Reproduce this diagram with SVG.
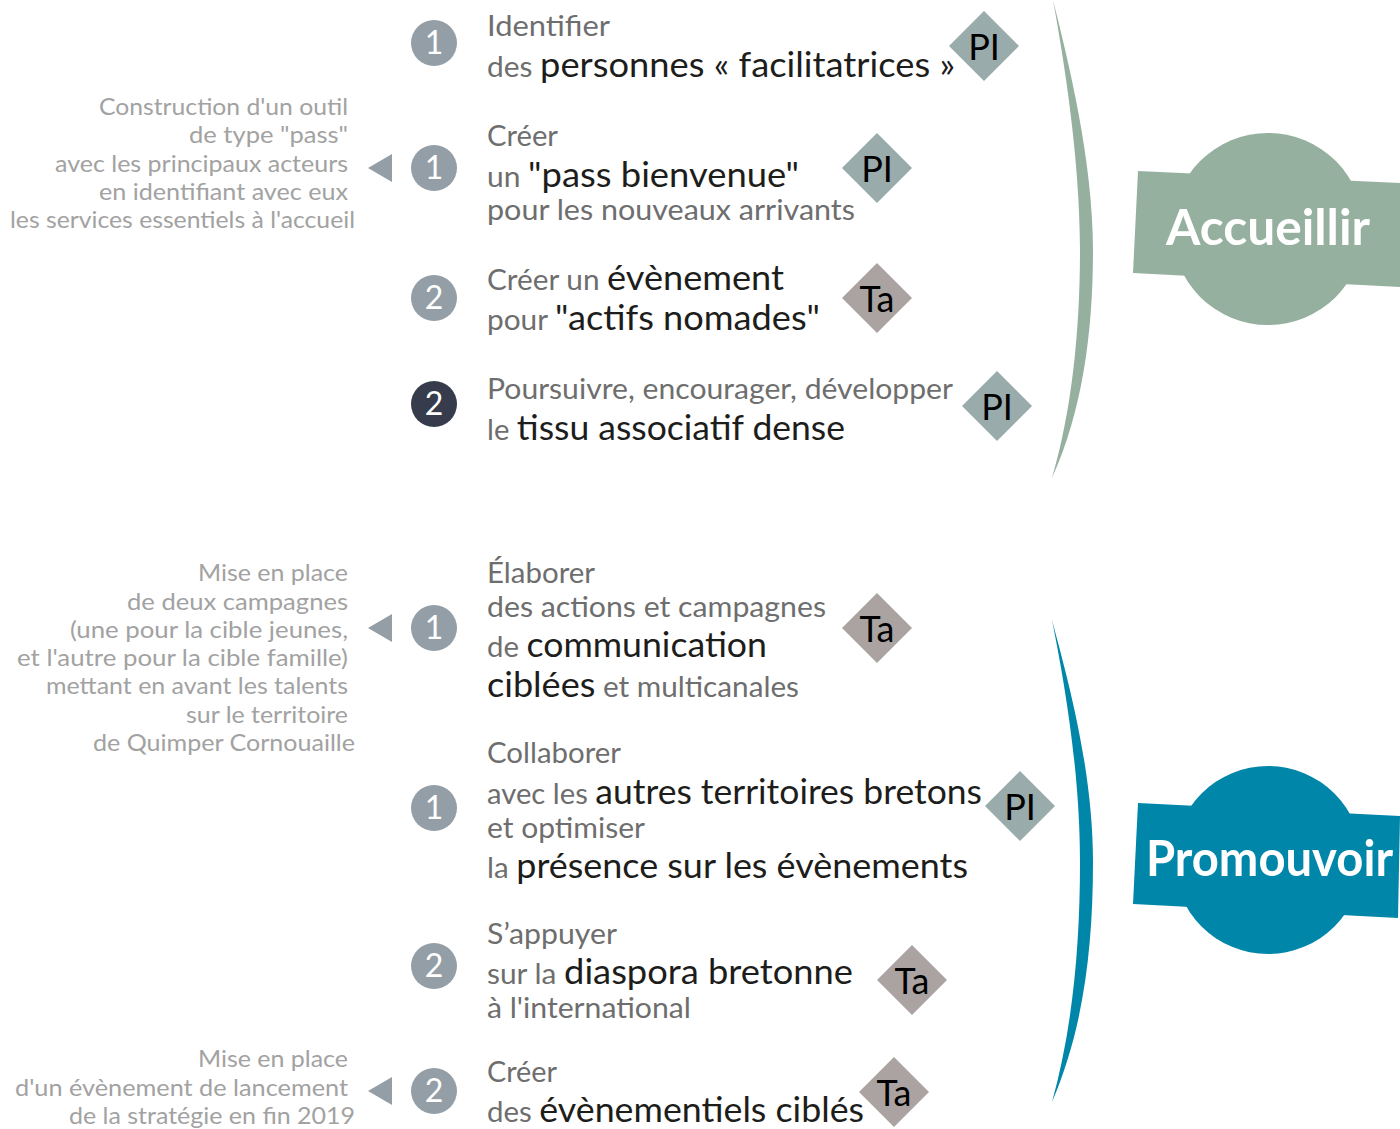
<svg xmlns="http://www.w3.org/2000/svg" width="1400" height="1129" viewBox="0 0 1400 1129">
<style>
text{font-family:Lato,"Noto Sans","Liberation Sans",sans-serif}
.g{fill:#6e6e6e;font-size:28px}
.d{fill:#1d1d1b;font-size:34px}
.n{fill:#a2a2a2;font-size:23px;text-anchor:end}
.num{fill:#ffffff;font-size:32px;text-anchor:middle}
.c1{fill:#939ea6}
.c2{fill:#363c4b}
.pi{fill:#9aabab}
.ta{fill:#aba3a2}
.dt{fill:#000000;font-size:36px;text-anchor:middle}
.tri{fill:#939ea6}
.big{fill:#ffffff;font-size:49px;font-weight:bold}
</style>
<defs>
<path id="dia" d="M0,-35 L35,0 L0,35 L-35,0 Z"/>
<path id="tri" d="M0,0 L24,-14 L24,14 Z"/>
</defs>

<g id="connectors">
<path d="M1053,0 C1068,60 1093,160 1093,250 C1093,330 1083,410 1052,478 C1072,410 1080,330 1080,250 C1080,160 1064,60 1053,0 Z" fill="#96b09f"/>
<path d="M1052,620 C1068,680 1093,770 1093,862 C1093,950 1083,1030 1052,1102 C1072,1030 1080,950 1080,862 C1080,770 1064,680 1052,620 Z" fill="#0086a9"/>
<use href="#tri" x="368" y="168" class="tri"/>
<use href="#tri" x="368" y="628" class="tri"/>
<use href="#tri" x="368" y="1091" class="tri"/>
</g>

<g id="accueillir">
<circle cx="1268" cy="229" r="96" fill="#96b09f"/>
<path d="M1138,171 L1400,183 L1400,287 L1133,273 Z" fill="#96b09f"/>
<text class="big" x="1166" y="245" textLength="204" lengthAdjust="spacingAndGlyphs">Accueillir</text>
</g>

<g id="promouvoir">
<circle cx="1268" cy="860" r="94" fill="#0086a9"/>
<path d="M1138,803 L1400,816 L1398,918 L1133,904 Z" fill="#0086a9"/>
<text class="big" x="1146" y="876" textLength="247" lengthAdjust="spacingAndGlyphs">Promouvoir</text>
</g>

<g id="item1">
<circle cx="434" cy="43" r="23" class="c1"/>
<text class="num" x="434" y="54">1</text>
<text class="g" x="487" y="36" textLength="123" lengthAdjust="spacingAndGlyphs">Identifier</text>
<text class="g" x="487" y="77" textLength="468" lengthAdjust="spacingAndGlyphs">des <tspan class="d">personnes « facilitatrices »</tspan></text>
<use href="#dia" x="984" y="46" class="pi"/>
<text class="dt" x="984" y="60">PI</text>
</g>

<g id="item2">
<circle cx="434" cy="168" r="23" class="c1"/>
<text class="num" x="434" y="179">1</text>
<text class="g" x="487" y="146" textLength="71" lengthAdjust="spacingAndGlyphs">Créer</text>
<text class="g" x="487" y="187" textLength="312" lengthAdjust="spacingAndGlyphs">un <tspan class="d">"pass bienvenue"</tspan></text>
<text class="g" x="487" y="220" textLength="368" lengthAdjust="spacingAndGlyphs">pour les nouveaux arrivants</text>
<use href="#dia" x="877" y="168" class="pi"/>
<text class="dt" x="877" y="182">PI</text>
</g>

<g id="note1">
<text class="n" x="348" y="115" textLength="249" lengthAdjust="spacingAndGlyphs">Construction d'un outil</text>
<text class="n" x="348" y="143" textLength="159" lengthAdjust="spacingAndGlyphs">de type "pass"</text>
<text class="n" x="348" y="172" textLength="293" lengthAdjust="spacingAndGlyphs">avec les principaux acteurs</text>
<text class="n" x="348" y="200" textLength="249" lengthAdjust="spacingAndGlyphs">en identifiant avec eux</text>
<text class="n" x="355" y="228" textLength="345" lengthAdjust="spacingAndGlyphs">les services essentiels à l'accueil</text>
</g>

<g id="item3">
<circle cx="434" cy="298" r="23" class="c1"/>
<text class="num" x="434" y="309">2</text>
<text class="g" x="487" y="290" textLength="297" lengthAdjust="spacingAndGlyphs">Créer un <tspan class="d">évènement</tspan></text>
<text class="g" x="487" y="330" textLength="333" lengthAdjust="spacingAndGlyphs">pour <tspan class="d">"actifs nomades"</tspan></text>
<use href="#dia" x="877" y="298" class="ta"/>
<text class="dt" x="877" y="312">Ta</text>
</g>

<g id="item4">
<circle cx="434" cy="404" r="23" class="c2"/>
<text class="num" x="434" y="415">2</text>
<text class="g" x="487" y="399" textLength="466" lengthAdjust="spacingAndGlyphs">Poursuivre, encourager, développer</text>
<text class="g" x="487" y="440" textLength="358" lengthAdjust="spacingAndGlyphs">le <tspan class="d">tissu associatif dense</tspan></text>
<use href="#dia" x="997" y="406" class="pi"/>
<text class="dt" x="997" y="420">PI</text>
</g>

<g id="item5">
<circle cx="434" cy="628" r="23" class="c1"/>
<text class="num" x="434" y="639">1</text>
<text class="g" x="487" y="583" textLength="108" lengthAdjust="spacingAndGlyphs">Élaborer</text>
<text class="g" x="487" y="617" textLength="339" lengthAdjust="spacingAndGlyphs">des actions et campagnes</text>
<text class="g" x="487" y="657" textLength="280" lengthAdjust="spacingAndGlyphs">de <tspan class="d">communication</tspan></text>
<text class="g" x="487" y="697" textLength="312" lengthAdjust="spacingAndGlyphs"><tspan class="d">ciblées</tspan> et multicanales</text>
<use href="#dia" x="877" y="628" class="ta"/>
<text class="dt" x="877" y="642">Ta</text>
</g>

<g id="note2">
<text class="n" x="348" y="581" textLength="150" lengthAdjust="spacingAndGlyphs">Mise en place</text>
<text class="n" x="348" y="610" textLength="221" lengthAdjust="spacingAndGlyphs">de deux campagnes</text>
<text class="n" x="348" y="638" textLength="278" lengthAdjust="spacingAndGlyphs">(une pour la cible jeunes,</text>
<text class="n" x="348" y="666" textLength="331" lengthAdjust="spacingAndGlyphs">et l'autre pour la cible famille)</text>
<text class="n" x="348" y="694" textLength="302" lengthAdjust="spacingAndGlyphs">mettant en avant les talents</text>
<text class="n" x="348" y="723" textLength="162" lengthAdjust="spacingAndGlyphs">sur le territoire</text>
<text class="n" x="355" y="751" textLength="262" lengthAdjust="spacingAndGlyphs">de Quimper Cornouaille</text>
</g>

<g id="item6">
<circle cx="434" cy="808" r="23" class="c1"/>
<text class="num" x="434" y="819">1</text>
<text class="g" x="487" y="763" textLength="134" lengthAdjust="spacingAndGlyphs">Collaborer</text>
<text class="g" x="487" y="804" textLength="495" lengthAdjust="spacingAndGlyphs">avec les <tspan class="d">autres territoires bretons</tspan></text>
<text class="g" x="487" y="838" textLength="158" lengthAdjust="spacingAndGlyphs">et optimiser</text>
<text class="g" x="487" y="878" textLength="481" lengthAdjust="spacingAndGlyphs">la <tspan class="d">présence sur les évènements</tspan></text>
<use href="#dia" x="1020" y="806" class="pi"/>
<text class="dt" x="1020" y="820">PI</text>
</g>

<g id="item7">
<circle cx="434" cy="966" r="23" class="c1"/>
<text class="num" x="434" y="977">2</text>
<text class="g" x="487" y="944" textLength="130" lengthAdjust="spacingAndGlyphs">S’appuyer</text>
<text class="g" x="487" y="984" textLength="366" lengthAdjust="spacingAndGlyphs">sur la <tspan class="d">diaspora bretonne</tspan></text>
<text class="g" x="487" y="1018" textLength="204" lengthAdjust="spacingAndGlyphs">à l'international</text>
<use href="#dia" x="912" y="980" class="ta"/>
<text class="dt" x="912" y="994">Ta</text>
</g>

<g id="item8">
<circle cx="434" cy="1091" r="23" class="c1"/>
<text class="num" x="434" y="1102">2</text>
<text class="g" x="487" y="1082" textLength="70" lengthAdjust="spacingAndGlyphs">Créer</text>
<text class="g" x="487" y="1122" textLength="377" lengthAdjust="spacingAndGlyphs">des <tspan class="d">évènementiels ciblés</tspan></text>
<use href="#dia" x="894" y="1092" class="ta"/>
<text class="dt" x="894" y="1106">Ta</text>
</g>

<g id="note3">
<text class="n" x="348" y="1067" textLength="150" lengthAdjust="spacingAndGlyphs">Mise en place</text>
<text class="n" x="348" y="1096" textLength="333" lengthAdjust="spacingAndGlyphs">d'un évènement de lancement</text>
<text class="n" x="355" y="1124" textLength="286" lengthAdjust="spacingAndGlyphs">de la stratégie en fin 2019</text>
</g>
</svg>
